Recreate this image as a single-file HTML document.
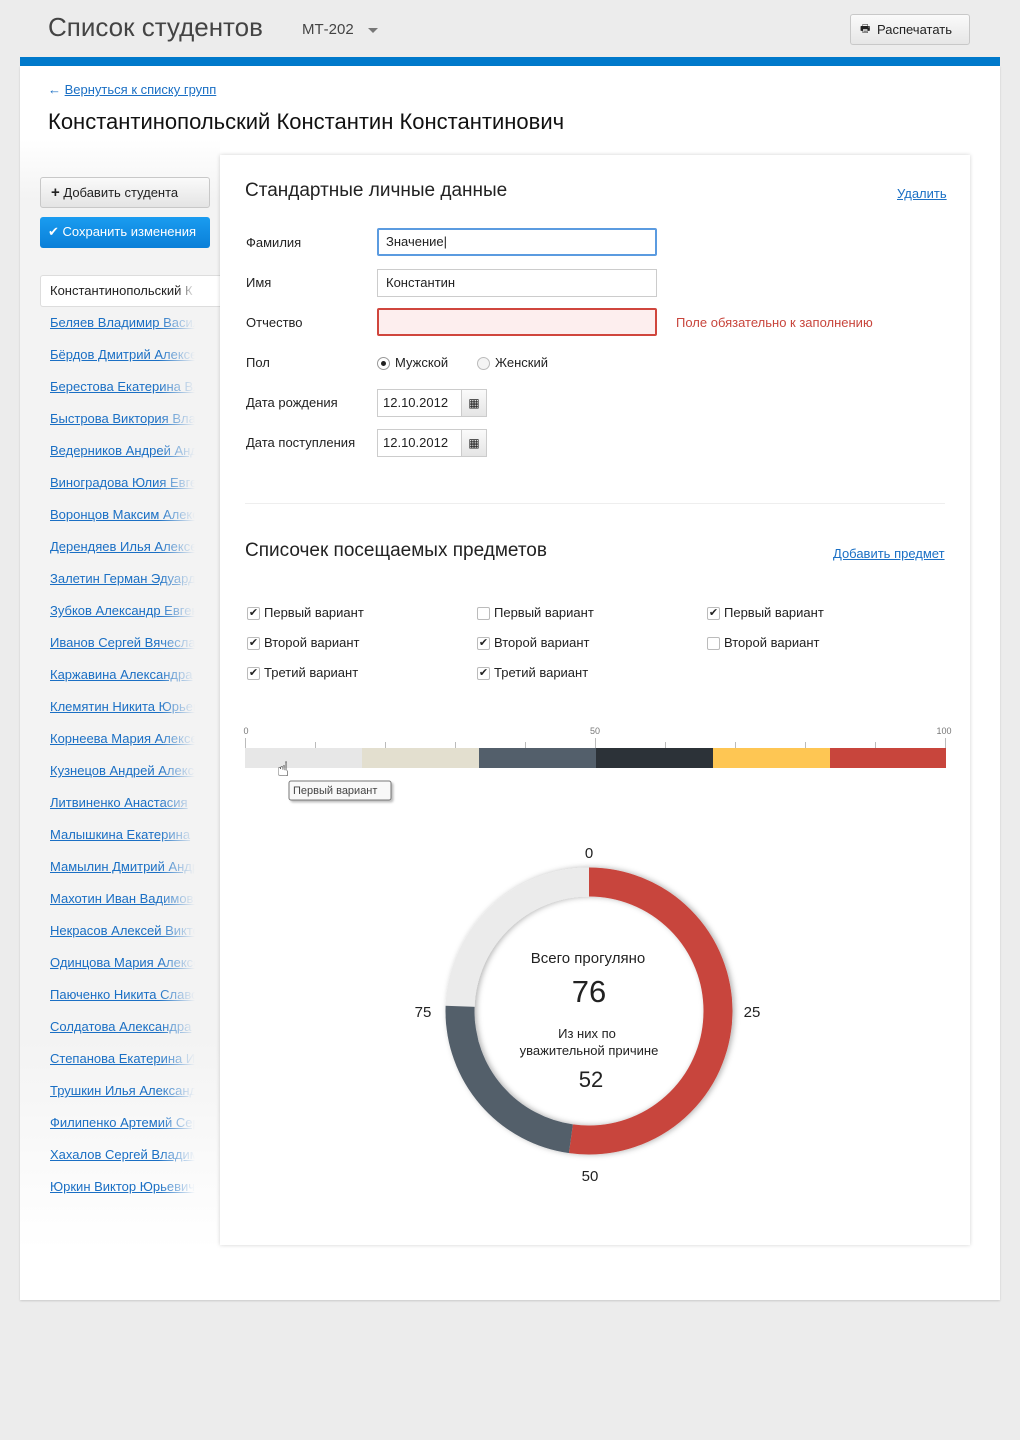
<!DOCTYPE html>
<html><head><meta charset="utf-8">
<style>
*{margin:0;padding:0;box-sizing:border-box}
body{width:1020px;height:1440px;background:#ececec;font-family:"Liberation Sans","DejaVu Sans",sans-serif;color:#222;position:relative;overflow:hidden}
.abs{position:absolute}
a,.lnk{color:#1a6fc4;text-decoration:underline}
.h1{left:48px;top:12px;font-size:26px;color:#444}
.grp{left:302px;top:21px;font-size:15px;color:#444}
.tri{left:368px;top:28px;width:0;height:0;border-left:5px solid transparent;border-right:5px solid transparent;border-top:5px solid #777}
.print{left:850px;top:14px;width:120px;height:31px;border:1px solid #c8c8c8;border-radius:3px;background:linear-gradient(#fafafa,#e6e6e6);font-size:13px;line-height:29px;padding-left:26px}
.blue{left:20px;top:57px;width:980px;height:9px;background:#0079cb}
.main{left:20px;top:66px;width:980px;height:1234px;background:#fff;box-shadow:0 1px 2px rgba(0,0,0,.15)}
.leftbg{left:20px;top:140px;width:200px;height:1160px;background:linear-gradient(#fff,#f3f3f3 60px,#f3f3f3 900px,#fff 1110px)}
.card{left:220px;top:155px;width:750px;height:1090px;background:#fff;box-shadow:0 0 4px rgba(0,0,0,.18)}
.btn{left:40px;width:170px;height:31px;border-radius:3px;font-size:13px;line-height:30px;padding-left:10px}
.list div{position:absolute;left:50px;width:145px;white-space:nowrap;overflow:hidden;font-size:13px;color:#1a6fc4;text-decoration:underline;-webkit-mask-image:linear-gradient(90deg,#000 75%,transparent);mask-image:linear-gradient(90deg,#000 75%,transparent)}
.lbl{left:246px;font-size:13px}
.inp{left:377px;width:280px;height:28px;border:1px solid #ccc;font-size:13px;line-height:26px;padding-left:8px;background:#fff}
.cb{position:absolute;width:13px;height:13px;border:1px solid #bbb;border-radius:2px;background:#fff;font-size:11px;line-height:11px;text-align:center}
.opt{position:absolute;font-size:13px}
</style></head><body>
<div class="abs h1">Список студентов</div>
<div class="abs grp">МТ-202</div>
<div class="abs tri"></div>
<div class="abs print"><span style="position:absolute;left:9px;top:0;font-size:11px">🖶</span>Распечатать</div>
<div class="abs blue"></div>
<div class="abs main"></div>
<div class="abs leftbg"></div>
<div class="abs" style="left:48px;top:82px;font-size:13px;color:#1a6fc4">← <span class="lnk">Вернуться к списку групп</span></div>
<div class="abs" style="left:48px;top:109px;font-size:22px;color:#111">Константинопольский Константин Константинович</div>
<div class="abs btn" style="top:177px;border:1px solid #c8c8c8;background:linear-gradient(#fafafa,#e4e4e4)"><b style="font-size:15px">+</b> Добавить студента</div>
<div class="abs btn" style="top:217px;background:linear-gradient(#1a9cf0,#0a7fd8);color:#fff;padding-left:8px">✔ Сохранить изменения</div>
<div class="abs" style="left:40px;top:275px;width:185px;height:32px;background:#fff;border:1px solid #ddd;border-right:none;border-radius:3px 0 0 3px"></div>
<div class="abs" style="left:50px;top:283px;width:145px;overflow:hidden;white-space:nowrap;font-size:13px;-webkit-mask-image:linear-gradient(90deg,#000 88%,transparent)">Константинопольский К</div>
<div class="abs card"></div>
<div class="list">
<div style="top:315px">Беляев Владимир Васильевич</div>
<div style="top:347px">Бёрдов Дмитрий Алексеевич</div>
<div style="top:379px">Берестова Екатерина Владимировна</div>
<div style="top:411px">Быстрова Виктория Владимировна</div>
<div style="top:443px">Ведерников Андрей Андреевич</div>
<div style="top:475px">Виноградова Юлия Евгеньевна</div>
<div style="top:507px">Воронцов Максим Алексеевич</div>
<div style="top:539px">Дерендяев Илья Алексеевич</div>
<div style="top:571px">Залетин Герман Эдуардович</div>
<div style="top:603px">Зубков Александр Евгеньевич</div>
<div style="top:635px">Иванов Сергей Вячеславович</div>
<div style="top:667px">Каржавина Александра</div>
<div style="top:699px">Клемятин Никита Юрьевич</div>
<div style="top:731px">Корнеева Мария Алексеевна</div>
<div style="top:763px">Кузнецов Андрей Алексеевич</div>
<div style="top:795px">Литвиненко Анастасия</div>
<div style="top:827px">Малышкина Екатерина</div>
<div style="top:859px">Мамылин Дмитрий Андреевич</div>
<div style="top:891px">Махотин Иван Вадимович</div>
<div style="top:923px">Некрасов Алексей Викторович</div>
<div style="top:955px">Одинцова Мария Алексеевна</div>
<div style="top:987px">Паюченко Никита Славович</div>
<div style="top:1019px">Солдатова Александра</div>
<div style="top:1051px">Степанова Екатерина Игоревна</div>
<div style="top:1083px">Трушкин Илья Александрович</div>
<div style="top:1115px">Филипенко Артемий Сергеевич</div>
<div style="top:1147px">Хахалов Сергей Владимирович</div>
<div style="top:1179px">Юркин Виктор Юрьевич</div>
</div>

<div class="abs" style="left:245px;top:180px;font-size:19px;color:#222">Стандартные личные данные</div>
<div class="abs lnk" style="left:897px;top:186px;font-size:13px">Удалить</div>
<div class="abs lbl" style="top:235px">Фамилия</div>
<div class="abs lbl" style="top:275px">Имя</div>
<div class="abs lbl" style="top:315px">Отчество</div>
<div class="abs lbl" style="top:355px">Пол</div>
<div class="abs lbl" style="top:395px">Дата рождения</div>
<div class="abs lbl" style="top:435px">Дата поступления</div>
<div class="abs inp" style="top:228px;border:2px solid #5b9be0;border-radius:2px;line-height:24px;padding-left:7px">Значение|</div>
<div class="abs inp" style="top:269px">Константин</div>
<div class="abs inp" style="top:308px;border:2px solid #d0463d;background:#fdeeee;border-radius:2px"></div>
<div class="abs" style="left:676px;top:315px;font-size:13px;color:#c8453c">Поле обязательно к заполнению</div>
<div class="abs" style="left:377px;top:357px;width:13px;height:13px;border:1px solid #999;border-radius:50%;background:#fff"><div style="margin:3px;width:5px;height:5px;border-radius:50%;background:#222"></div></div>
<div class="abs" style="left:395px;top:355px;font-size:13px">Мужской</div>
<div class="abs" style="left:477px;top:357px;width:13px;height:13px;border:1px solid #bbb;border-radius:50%;background:#f4f4f4"></div>
<div class="abs" style="left:495px;top:355px;font-size:13px">Женский</div>
<div class="abs inp" style="top:389px;width:110px;padding-left:5px">12.10.2012</div>
<div class="abs" style="left:461px;top:389px;width:26px;height:28px;border:1px solid #ccc;background:linear-gradient(#fafafa,#e5e5e5);font-size:12px;text-align:center;line-height:26px">▦</div>
<div class="abs inp" style="top:429px;width:110px;padding-left:5px">12.10.2012</div>
<div class="abs" style="left:461px;top:429px;width:26px;height:28px;border:1px solid #ccc;background:linear-gradient(#fafafa,#e5e5e5);font-size:12px;text-align:center;line-height:26px">▦</div>
<div class="abs" style="left:245px;top:503px;width:700px;height:1px;background:#eee"></div>

<div class="abs" style="left:245px;top:540px;font-size:19px">Списочек посещаемых предметов</div>
<div class="abs lnk" style="left:833px;top:546px;font-size:13px">Добавить предмет</div>
<div class="cb" style="left:247px;top:607px">✔</div><div class="opt" style="left:264px;top:605px">Первый вариант</div>
<div class="cb" style="left:247px;top:637px">✔</div><div class="opt" style="left:264px;top:635px">Второй вариант</div>
<div class="cb" style="left:247px;top:667px">✔</div><div class="opt" style="left:264px;top:665px">Третий вариант</div>
<div class="cb" style="left:477px;top:607px"></div><div class="opt" style="left:494px;top:605px">Первый вариант</div>
<div class="cb" style="left:477px;top:637px">✔</div><div class="opt" style="left:494px;top:635px">Второй вариант</div>
<div class="cb" style="left:477px;top:667px">✔</div><div class="opt" style="left:494px;top:665px">Третий вариант</div>
<div class="cb" style="left:707px;top:607px">✔</div><div class="opt" style="left:724px;top:605px">Первый вариант</div>
<div class="cb" style="left:707px;top:637px"></div><div class="opt" style="left:724px;top:635px">Второй вариант</div>

<svg class="abs" style="left:0;top:0" width="1020" height="1440">
<g font-family="Liberation Sans,sans-serif" font-size="9" fill="#777" text-anchor="middle">
<text x="246" y="734">0</text><text x="595" y="734">50</text><text x="944" y="734">100</text></g>
<g stroke="#bbb" stroke-width="1">
<line x1="245.5" y1="738" x2="245.5" y2="748"/><line x1="315.5" y1="742" x2="315.5" y2="748"/><line x1="385.5" y1="742" x2="385.5" y2="748"/><line x1="455.5" y1="742" x2="455.5" y2="748"/><line x1="525.5" y1="742" x2="525.5" y2="748"/><line x1="595.5" y1="738" x2="595.5" y2="748"/><line x1="665.5" y1="742" x2="665.5" y2="748"/><line x1="735.5" y1="742" x2="735.5" y2="748"/><line x1="805.5" y1="742" x2="805.5" y2="748"/><line x1="875.5" y1="742" x2="875.5" y2="748"/><line x1="945.5" y1="738" x2="945.5" y2="748"/></g>
<rect x="245" y="748" width="117" height="20" fill="#e7e7e7"/>
<rect x="362" y="748" width="117" height="20" fill="#e3dfcf"/>
<rect x="479" y="748" width="117" height="20" fill="#535f6b"/>
<rect x="596" y="748" width="117" height="20" fill="#2c3238"/>
<rect x="713" y="748" width="117" height="20" fill="#fec653"/>
<rect x="830" y="748" width="116" height="20" fill="#c8453c"/>
<rect x="289" y="781" width="102" height="19" fill="#f8f8f8" stroke="#777" rx="2" style="filter:drop-shadow(2px 2px 1px rgba(0,0,0,.25))"/>
<text x="293" y="794" font-family="Liberation Sans,sans-serif" font-size="11" fill="#444">Первый вариант</text>
<text x="277" y="776" font-size="20" fill="#000" font-family="DejaVu Sans">☝</text>
<defs><filter id="sh"><feDropShadow dx="0" dy="2" stdDeviation="3" flood-opacity=".3"/></filter></defs>
<g transform="rotate(-90 589 1011)" filter="url(#sh)">
<circle cx="589" cy="1011" r="129" fill="none" stroke="#ebebeb" stroke-width="29"/>
<circle cx="589" cy="1011" r="129" fill="none" stroke="#c8453c" stroke-width="29" stroke-dasharray="423.3 1000"/>
<circle cx="589" cy="1011" r="129" fill="none" stroke="#525e6b" stroke-width="29" stroke-dasharray="0 423.3 189.1 1000"/>
</g>
<g font-family="Liberation Sans,sans-serif" fill="#222" text-anchor="middle">
<text x="589" y="858" font-size="15">0</text>
<text x="752" y="1017" font-size="15">25</text>
<text x="590" y="1181" font-size="15">50</text>
<text x="423" y="1017" font-size="15">75</text>
<text x="588" y="963" font-size="15">Всего прогуляно</text>
<text x="589" y="1002" font-size="31">76</text>
<text x="587" y="1038" font-size="13">Из них по</text>
<text x="589" y="1055" font-size="13">уважительной причине</text>
<text x="591" y="1087" font-size="22">52</text>
</g>
</svg>
</body></html>
